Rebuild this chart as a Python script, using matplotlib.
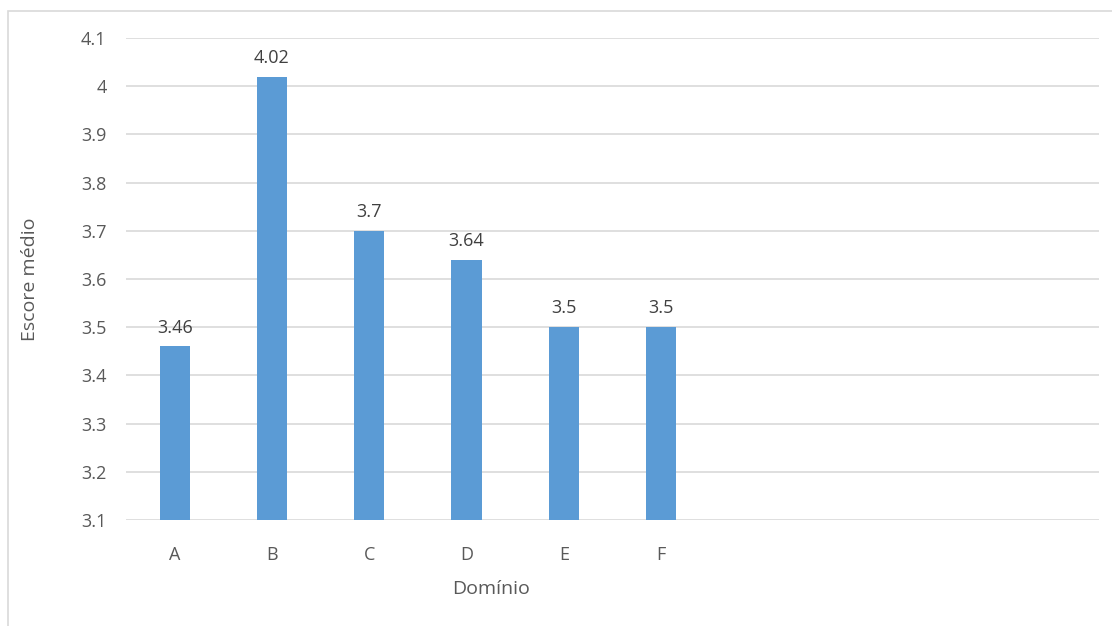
import matplotlib.pyplot as plt
from matplotlib.patches import Rectangle

categories = ["A", "B", "C", "D", "E", "F"]
scores = [3.46, 4.02, 3.70, 3.64, 3.50, 3.50]
value_labels = ["3.46", "4.02", "3.7", "3.64", "3.5", "3.5"]
y_ticks = [3.1, 3.2, 3.3, 3.4, 3.5, 3.6, 3.7, 3.8, 3.9, 4.0, 4.1]
y_tick_labels = ["3.1", "3.2", "3.3", "3.4", "3.5", "3.6", "3.7", "3.8", "3.9", "4", "4.1"]
n_slots = 10

text_color = "#595959"
bar_color = "#5b9bd5"
grid_color = "#d9d9d9"

plt.rcParams["font.family"] = ["Open Sans", "DejaVu Sans"]

W, H = 1112, 626
fig = plt.figure(figsize=(W / 100, H / 100), dpi=100)

# chart frame
fig.patches.append(Rectangle((8 / W, -0.01), 1.1, 1 - 11 / H + 0.01,
                             transform=fig.transFigure, fill=False,
                             edgecolor="#d9d9d9", linewidth=1.2))

left, right, top, bottom = 126, 1099, 38, 520
ax = fig.add_axes([left / W, 1 - bottom / H, (right - left) / W, (bottom - top) / H])

x = list(range(len(categories)))
ax.bar(x, scores, width=0.31, color=bar_color, bottom=0, zorder=3)
ax.set_xlim(-0.5, n_slots - 0.5)
ax.set_ylim(3.1, 4.1)

for xi, v, lab in zip(x, scores, value_labels):
    ax.annotate(lab, (xi, v), xytext=(0, 7), textcoords="offset points",
                ha="center", va="bottom", fontsize=13, color="#404040")

ax.set_yticks(y_ticks)
ax.set_yticklabels(y_tick_labels)
ax.set_xticks(x)
ax.set_xticklabels(categories)
ax.tick_params(axis="both", length=0, labelsize=13, labelcolor=text_color)
ax.tick_params(axis="y", pad=14)
ax.tick_params(axis="x", pad=19)

ax.grid(axis="y", color=grid_color, linewidth=1.2, zorder=0)
for s in ax.spines.values():
    s.set_visible(False)

ax.set_xlabel("Domínio", fontsize=14, color=text_color)
ax.set_ylabel("Escore médio", fontsize=14, color=text_color)
ax.xaxis.set_label_coords((491 - left) / (right - left), -(580 - bottom) / (bottom - top))
ax.yaxis.set_label_coords(-(left - 39) / (right - left), 0.5)

fig.savefig("out.png", dpi=100)
